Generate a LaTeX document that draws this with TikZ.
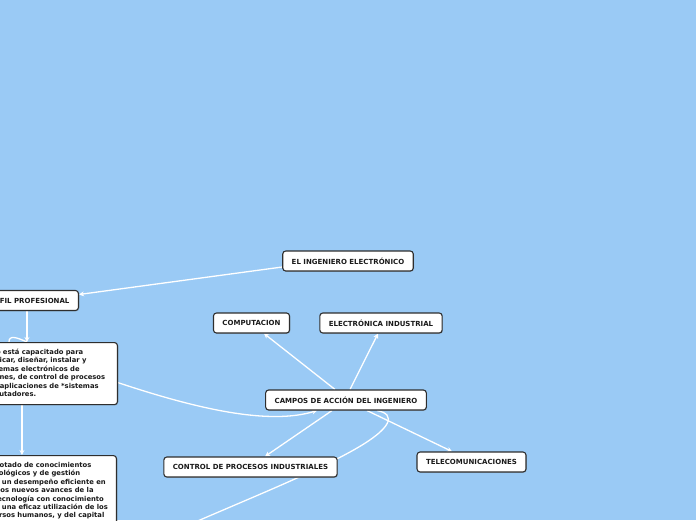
\documentclass[tikz,border=0pt]{standalone}
\usepackage{fontspec}
\setmainfont{DejaVu Sans}
\usetikzlibrary{arrows.meta, calc, positioning, shadows, backgrounds}
\definecolor{mapbg}{HTML}{9ACAF5}
\definecolor{boxline}{HTML}{2E2E2E}
\definecolor{boxtext}{HTML}{1A1A1A}

\begin{document}
\begin{tikzpicture}[x=1pt, y=-1pt,
    topic/.style={draw=boxline, line width=1.1pt, rounded corners=3pt, fill=white, text=boxtext, inner xsep=9pt, inner ysep=0pt, minimum height=20pt, font=\fontsize{7}{8.4}\selectfont\bfseries, drop shadow={shadow xshift=0.8pt, shadow yshift=-0.8pt, opacity=0.35}},
    note/.style={topic, align=left, inner xsep=8.5pt, inner ysep=6.5pt, minimum height=0pt, font=\fontsize{6.8}{8.45}\selectfont\bfseries},
    link/.style={draw=white, line width=1.3pt, -{Stealth[length=5pt, width=5pt]}},
    plain/.style={draw=white, line width=1.3pt}
]
\useasboundingbox (0,0) rectangle (696,520);

% map topics
\node[topic] (ingeniero) at (348,261) {EL INGENIERO ELECTRÓNICO};
\node[topic, anchor=east] (perfil) at (79,300.5) {PERFIL PROFESIONAL};
\node[note, text width=163.5pt, anchor=north east] (perfiltxt) at (118,342) {Este ingeniero está capacitado para\\investigar, aplicar, diseñar, instalar y\\mantener sistemas electrónicos de\\automatizaciones, de control de procesos\\industriales y aplicaciones de *sistemas\\de microcomputadores.};
\node[note, anchor=north east] (dotado) at (117,455) {Ha dotado de conocimientos\\tecnológicos y de gestión\\para un desempeño eficiente en\\con los nuevos avances de la\\biotecnología con conocimiento\\para una eficaz utilización de los\\recursos humanos, y del capital};
\node[topic] (campos) at (346,400) {CAMPOS DE ACCIÓN DEL INGENIERO};
\node[topic] (computacion) at (251.5,323) {COMPUTACION};
\node[topic] (industrial) at (381,323) {ELECTRÓNICA INDUSTRIAL};
\node[topic] (control) at (250.5,467) {CONTROL DE PROCESOS INDUSTRIALES};
\node[topic] (telecom) at (471.5,462) {TELECOMUNICACIONES};

\coordinate (fuera) at (186,526);
\coordinate (lazo) at (9,342);

% connectors behind the boxes
\begin{scope}[on background layer]
\fill[mapbg] (0,0) rectangle (696,520);
\draw[link] ([yshift=-6pt]ingeniero.west) -- ([yshift=6pt]perfil.east);
\draw[link] (perfil.south) -- (perfil.south |- perfiltxt.north);
\draw[plain] (lazo) .. controls (9,335) and (16,337) .. (perfil.south |- perfiltxt.north);
\draw[link] ($(perfiltxt.south -| perfil.south)+(-5,0)$) -- ($(dotado.north -| perfil.south)+(-5,0)$);
\draw[link] ([yshift=-9pt]perfiltxt.east) .. controls (200,410) and (270,425) .. ([xshift=-29pt]campos.south);
\draw[link] ([xshift=-11pt]campos.north) -- ([xshift=12.5pt]computacion.south);
\draw[link] ([xshift=4pt]campos.north) -- ([xshift=-3pt]industrial.south);
\draw[link] ([xshift=-14pt]campos.south) -- ([xshift=14.5pt]control.north);
\draw[link] ([xshift=21pt]campos.south) -- ([xshift=-19.5pt]telecom.north);
\draw[plain] ([xshift=31pt]campos.south) .. controls (396,414) and (394,428) .. (350,452) .. controls (310,474) and (260,494) .. (fuera);
\end{scope}
\end{tikzpicture}
\end{document}
